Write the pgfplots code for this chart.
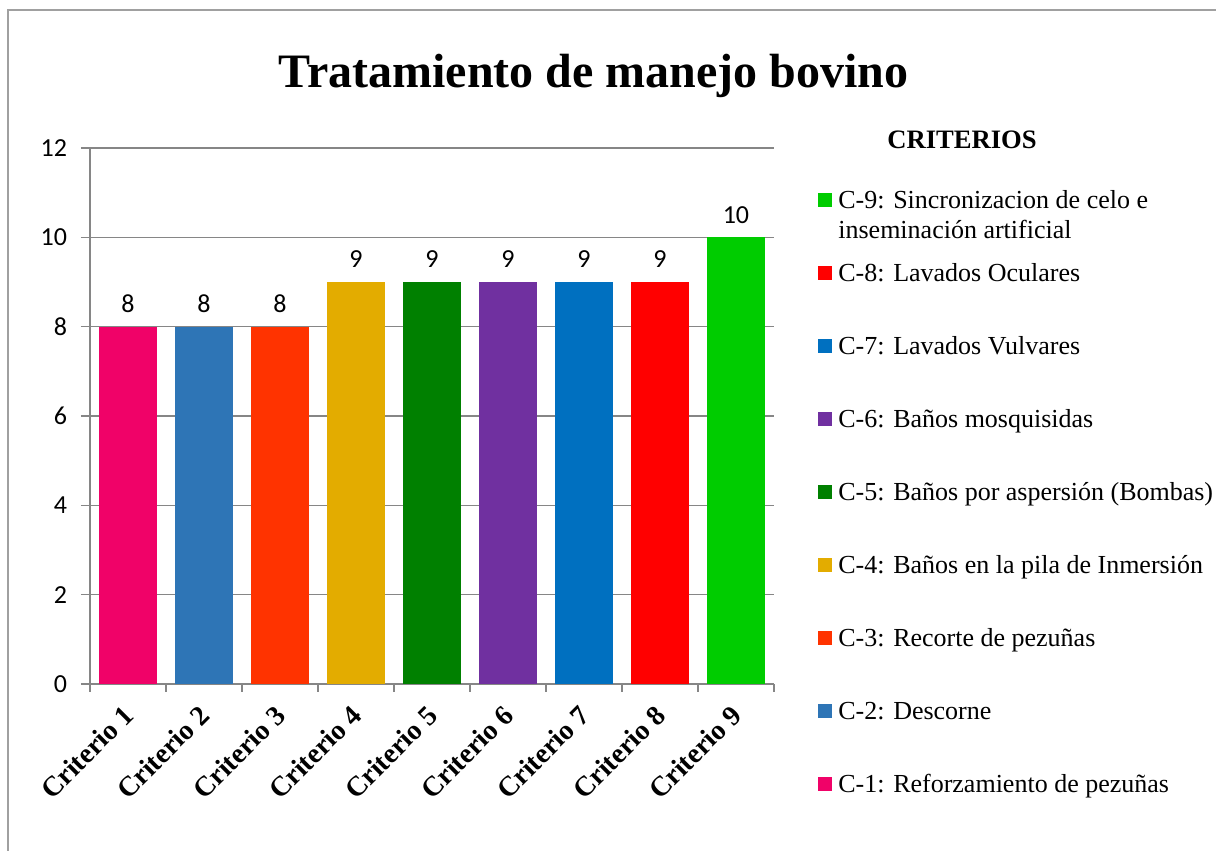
\documentclass[border=0pt]{standalone}
\usepackage{pgfplots}
\pgfplotsset{compat=1.18}
\usepackage{fontspec}
\setmainfont{Liberation Serif}
\newfontfamily\carlito{Carlito}
\definecolor{c1}{RGB}{240,2,104}
\definecolor{c2}{RGB}{46,117,182}
\definecolor{c3}{RGB}{255,51,0}
\definecolor{c4}{RGB}{227,172,0}
\definecolor{c5}{RGB}{0,128,0}
\definecolor{c6}{RGB}{112,48,160}
\definecolor{c7}{RGB}{0,112,192}
\definecolor{c8}{RGB}{255,0,0}
\definecolor{c9}{RGB}{0,204,0}
\definecolor{gridc}{RGB}{134,134,134}
\definecolor{framec}{RGB}{160,160,160}
\pgfplotsset{mybar/.style={ybar, bar width=29pt, bar shift=0pt, draw=none, fill=#1,
  legend image code/.code={\fill[#1] (0pt,0.9pt) rectangle (7pt,7.9pt); \path (10pt,0pt);}}}
\begin{document}
\begin{tikzpicture}
\useasboundingbox (0,0) rectangle (608pt,425.5pt);
\draw[framec, line width=1.3pt] (4pt,420.5pt) rectangle (700pt,-50pt);
\begin{axis}[
  at={(45pt,83.5pt)}, anchor=south west,
  scale only axis, width=342pt, height=268pt,
  xmin=0.5, xmax=9.5, ymin=0, ymax=12,
  axis x line*=bottom, axis y line*=left,
  axis line style={gridc, line width=0.7pt},
  ytick={0,2,...,12},
  ymajorgrids, grid style={gridc, line width=0.7pt},
  tick align=outside,
  y tick style={gridc, line width=0.7pt},
  major tick length=4.5pt,
  minor tick length=4pt,
  xtick={1,...,9},
  xticklabels={Criterio 1,Criterio 2,Criterio 3,Criterio 4,Criterio 5,Criterio 6,Criterio 7,Criterio 8,Criterio 9},
  minor xtick={0.5,1.5,...,9.5},
  major x tick style={draw=none},
  minor x tick style={draw=gridc, line width=0.7pt},
  /pgf/number format/assume math mode=true,
  yticklabel style={font=\carlito\fontsize{13}{15}\selectfont, xshift=-3.5pt},
  xticklabel style={rotate=45, anchor=north east, font=\bfseries\fontsize{14}{16}\selectfont, inner sep=0pt, yshift=-1.3pt, xshift=-6pt},
  nodes near coords,
  every node near coord/.append style={font=\carlito\fontsize{13}{15}\selectfont, black, yshift=3.5pt},
  legend style={at={(1.0643,0.9216)}, anchor=north west, draw=none, fill=none, inner sep=0pt,
    row sep=24.5pt, font=\fontsize{13}{15}\selectfont,
    cells={anchor=base west},
    nodes={anchor=base west, inner sep=0pt, text height=9pt, text depth=3pt}},
  reverse legend,
]
\addplot[mybar=c1] coordinates {(1,8)};
\addlegendentry{C-1: Reforzamiento de pezuñas}
\addplot[mybar=c2] coordinates {(2,8)};
\addlegendentry{C-2: Descorne}
\addplot[mybar=c3] coordinates {(3,8)};
\addlegendentry{C-3: Recorte de pezuñas}
\addplot[mybar=c4] coordinates {(4,9)};
\addlegendentry{C-4: Baños en la pila de Inmersión}
\addplot[mybar=c5] coordinates {(5,9)};
\addlegendentry{C-5: Baños por aspersión (Bombas)}
\addplot[mybar=c6] coordinates {(6,9)};
\addlegendentry{C-6: Baños mosquisidas}
\addplot[mybar=c7] coordinates {(7,9)};
\addlegendentry{C-7: Lavados Vulvares}
\addplot[mybar=c8] coordinates {(8,9)};
\addlegendentry{C-8: Lavados Oculares}
\addplot[mybar=c9] coordinates {(9,10)};
\addlegendentry{\begin{tabular}[t]{@{}l@{}}C-9: Sincronizacion de celo e\\inseminación artificial\end{tabular}}
\end{axis}
\node[font=\bfseries\fontsize{13.3}{15}\selectfont] at (481pt,355.5pt) {CRITERIOS};
\node[font=\bfseries\fontsize{24}{28}\selectfont, anchor=base] at (296.75pt,381.5pt) {Tratamiento de manejo bovino};
\end{tikzpicture}
\end{document}
